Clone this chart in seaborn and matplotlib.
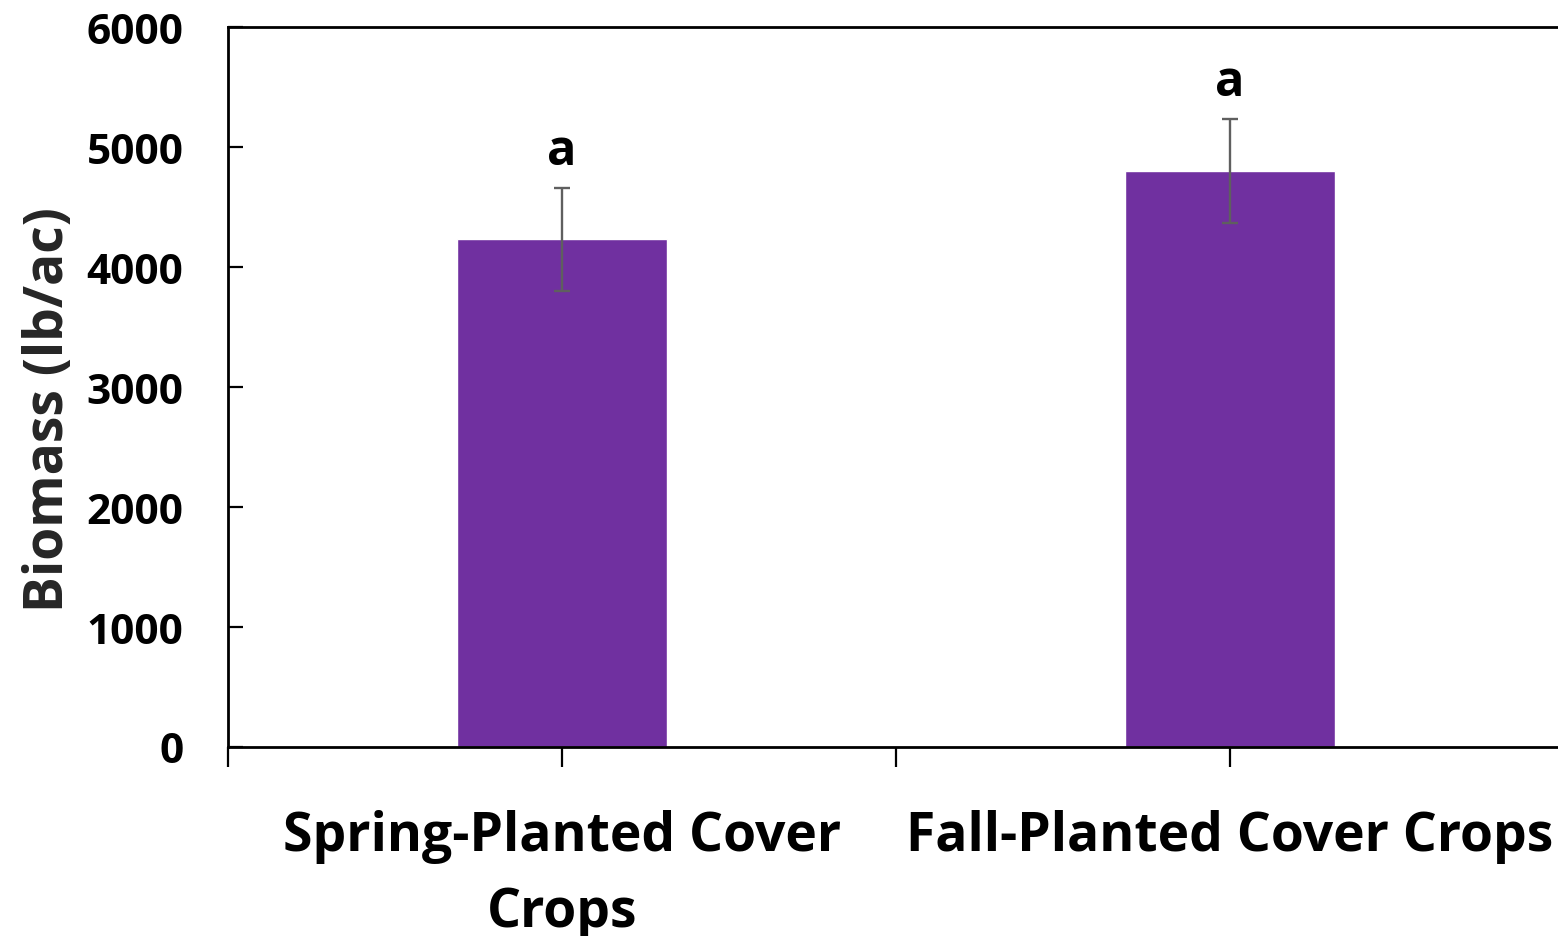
import matplotlib
matplotlib.use("Agg")
import matplotlib.pyplot as plt
import seaborn as sns
import pandas as pd

# Cover crop biomass (lb/ac), mean and error
categories = ["Spring-Planted Cover\nCrops", "Fall-Planted Cover Crops"]
biomass = [4230, 4800]
errors = [430, 430]
letters = ["a", "a"]

sns.set_theme(style="white")
plt.rcParams["font.family"] = ["Open Sans", "DejaVu Sans"]
plt.rcParams["font.weight"] = "bold"

df = pd.DataFrame({"group": categories, "biomass": biomass})

fig = plt.figure(figsize=(15.58, 9.37), dpi=100)
ax = fig.add_axes([228 / 1558, 1 - 748 / 937, (1564 - 228) / 1558, (748 - 28) / 937])

sns.barplot(data=df, x="group", y="biomass", color="#7030A0", saturation=1,
            width=0.313, errorbar=None, ax=ax, zorder=2)
ax.errorbar(range(len(categories)), biomass, yerr=errors, fmt="none",
            ecolor="#5F5F5F", elinewidth=1.7, capsize=6, capthick=1.7, zorder=3)

for i, (v, e, t) in enumerate(zip(biomass, errors, letters)):
    ax.text(i, v + e + 100, t, ha="center", va="bottom", fontsize=35,
            fontweight="bold", color="black")

ax.set_xlim(-0.5, 1.5)
ax.set_ylim(0, 6000)
ax.set_yticks(range(0, 6001, 1000))
ax.set_xticks([-0.5, 0.5, 1.5], minor=True)
ax.set_xlabel("")
ax.set_ylabel("Biomass (lb/ac)", fontsize=38.5, fontweight="bold")
ax.yaxis.set_label_coords(-0.114, 0.47)

for s in ["left", "bottom", "top"]:
    ax.spines[s].set_visible(True)
    ax.spines[s].set_color("black")
    ax.spines[s].set_linewidth(2)
ax.spines["right"].set_visible(False)

ax.tick_params(axis="y", direction="in", length=11, width=1.6, colors="black",
               labelsize=30.5, pad=32, left=True)
ax.tick_params(axis="x", which="both", direction="out", length=14.5, width=1.6,
               colors="black", bottom=True)
ax.tick_params(axis="x", which="major", labelsize=38.5, pad=30)
for lab in ax.get_yticklabels():
    lab.set_fontweight("bold")
for lab in ax.get_xticklabels():
    lab.set_fontweight("bold")
    lab.set_linespacing(1.55)

fig.savefig("out.png", dpi=100)
